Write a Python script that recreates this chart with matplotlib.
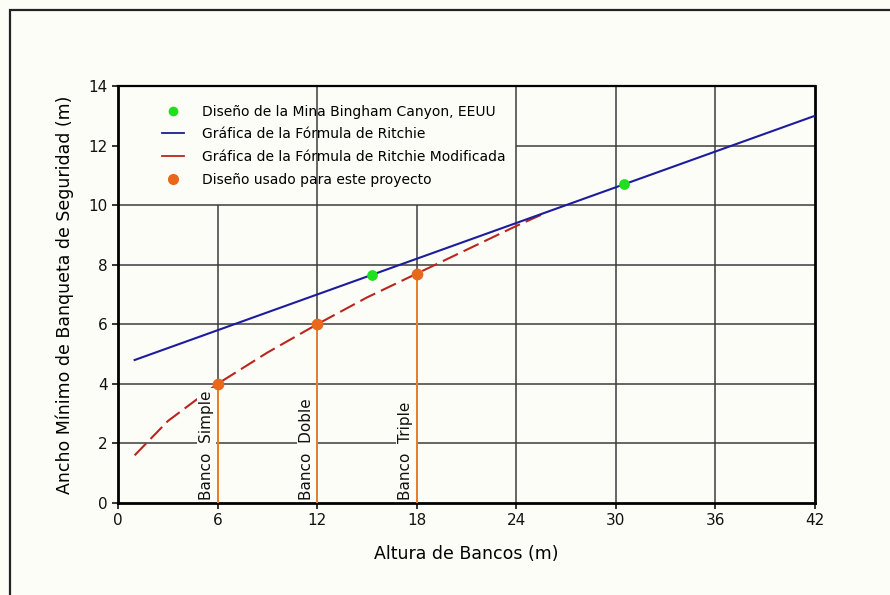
import matplotlib.pyplot as plt
from matplotlib.lines import Line2D
from matplotlib.patches import Rectangle

# --- data ---
ritchie_x = [1, 42]
ritchie_y = [4.8, 13.0]

modified_x = [1, 3, 6, 9, 12, 15, 18, 21, 24, 25.8]
modified_y = [1.6, 2.75, 4.0, 5.05, 6.0, 6.9, 7.7, 8.5, 9.3, 9.75]

bingham_x = [15.3, 30.5]
bingham_y = [7.65, 10.7]

project_x = [6, 12, 18]
project_y = [4.0, 6.0, 7.7]
project_labels = ["Banco  Simple", "Banco  Doble", "Banco  Triple"]

x_ticks = [0, 6, 12, 18, 24, 30, 36, 42]
y_ticks = [0, 2, 4, 6, 8, 10, 12, 14]

BG = "#fdfdf8"
GRID = "#3c3c3c"

fig = plt.figure(figsize=(8.9, 5.95), dpi=100, facecolor=BG)
ax = fig.add_axes([0.1326, 0.1546, 0.7831, 0.7009])
ax.set_facecolor(BG)

# outer drawing frame
fig.patches.append(Rectangle((10 / 890, -0.01), 1.0, 1 - 10 / 595 + 0.01,
                             transform=fig.transFigure, fill=False,
                             edgecolor="#222222", linewidth=1.6))

# grid (partly hidden behind the legend area, like the original)
for gx in [6, 18]:
    ax.vlines(gx, 0, 10, color=GRID, lw=1.1, zorder=1)
for gx in [12, 24, 30, 36]:
    ax.vlines(gx, 0, 14, color=GRID, lw=1.1, zorder=1)
for gy in [2, 4, 6, 8, 10]:
    ax.hlines(gy, 0, 42, color=GRID, lw=1.1, zorder=1)
ax.hlines(12, 24, 42, color=GRID, lw=1.1, zorder=1)

# curves
ax.plot(ritchie_x, ritchie_y, color="#1c1c9c", lw=1.5, zorder=4)
ax.plot(modified_x, modified_y, color="#b8261e", lw=1.5,
        dashes=(8, 3), zorder=3)
ax.scatter(bingham_x, bingham_y, s=45, color="#1ee01e", zorder=6)

for px, py, lab in zip(project_x, project_y, project_labels):
    ax.vlines(px, 0, py, color="#e8802a", lw=1.4, zorder=4)
    ax.text(px - 0.65, 0.1, lab, rotation=90, ha="center", va="bottom",
            fontsize=11, color="#111111", zorder=5,
            bbox=dict(facecolor=BG, edgecolor="none", pad=1.5))
ax.scatter(project_x, project_y, s=55, color="#e8681c", zorder=6)

ax.set_xlim(0, 42)
ax.set_ylim(0, 14)
ax.set_xticks(x_ticks)
ax.set_yticks(y_ticks)
ax.tick_params(direction="out", length=4, width=1.2, labelsize=11,
               colors="#111111")

for side in ["left", "bottom", "right"]:
    ax.spines[side].set_linewidth(2)
ax.spines["top"].set_linewidth(1.6)

ax.set_xlabel("Altura de Bancos (m)", fontsize=12.5, labelpad=12)
ax.set_ylabel("Ancho Mínimo de Banqueta de Seguridad (m)", fontsize=12.5,
              labelpad=10)

handles = [
    Line2D([], [], marker="o", ls="none", color="#1ee01e", markersize=6),
    Line2D([], [], color="#1c1c9c", lw=1.3),
    Line2D([], [], color="#b8261e", lw=1.3),
    Line2D([], [], marker="o", ls="none", color="#e8681c", markersize=7),
]
labels = [
    "Diseño de la Mina Bingham Canyon, EEUU",
    "Gráfica de la Fórmula de Ritchie",
    "Gráfica de la Fórmula de Ritchie Modificada",
    "Diseño usado para este proyecto",
]
leg = ax.legend(handles, labels, loc="upper left", bbox_to_anchor=(0.045, 0.985),
                frameon=False, fontsize=10, handlelength=1.6,
                handletextpad=1.3, labelspacing=0.62)
leg.set_zorder(7)

fig.savefig("out.png", dpi=100, facecolor=BG)
